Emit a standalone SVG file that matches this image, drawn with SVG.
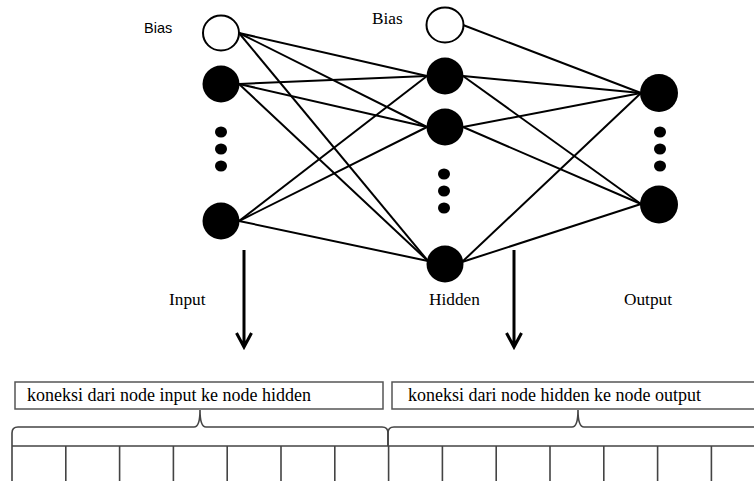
<svg xmlns="http://www.w3.org/2000/svg" width="754" height="481" viewBox="0 0 754 481">
<defs>
<style>
.bias{fill:#fff;stroke:#000;stroke-width:2}
.node{fill:#000}
.dot{fill:#000}
.conn{stroke:#000;stroke-width:2;fill:none}
.arrow{stroke:#000;stroke-width:3;fill:none}
.lbl{font-family:"Liberation Serif","Times New Roman",serif;font-size:17.3px;fill:#000}
.sans{font-family:"Liberation Sans",Arial,sans-serif;font-size:14.5px;fill:#000}
.box{fill:#fff;stroke:#555;stroke-width:1.5}
.btxt{font-family:"Liberation Serif","Times New Roman",serif;font-size:18px;fill:#000}
.grid{stroke:#444;stroke-width:1.6;fill:none}
</style>
</defs>
<rect width="754" height="481" fill="#fff"/>
<g id="connectors">
<line class="conn" x1="239" y1="33" x2="427" y2="76"/>
<line class="conn" x1="239" y1="33" x2="427" y2="127"/>
<line class="conn" x1="239" y1="33" x2="428" y2="261"/>
<line class="conn" x1="239" y1="84" x2="427" y2="76"/>
<line class="conn" x1="239" y1="84" x2="427" y2="127"/>
<line class="conn" x1="239" y1="84" x2="428" y2="261"/>
<line class="conn" x1="239" y1="221" x2="427" y2="76"/>
<line class="conn" x1="239" y1="221" x2="427" y2="127"/>
<line class="conn" x1="239" y1="221" x2="428" y2="261"/>
<line class="conn" x1="463" y1="25" x2="641" y2="93"/>
<line class="conn" x1="463" y1="76" x2="641" y2="93"/>
<line class="conn" x1="463" y1="76" x2="641" y2="204"/>
<line class="conn" x1="463" y1="127" x2="641" y2="93"/>
<line class="conn" x1="463" y1="127" x2="641" y2="204"/>
<line class="conn" x1="462" y1="262" x2="641" y2="93"/>
<line class="conn" x1="462" y1="262" x2="641" y2="204"/>
</g>
<g id="input-bias"><ellipse class="bias" cx="221" cy="33" rx="18" ry="17.5"/></g>
<g id="input-1"><circle class="node" cx="221" cy="84" r="18.5"/></g>
<g id="input-dots"><ellipse class="dot" cx="221" cy="132" rx="6" ry="5.5"/><ellipse class="dot" cx="221" cy="149" rx="6" ry="5.5"/><ellipse class="dot" cx="221" cy="166" rx="6" ry="5.5"/></g>
<g id="input-n"><circle class="node" cx="221" cy="221" r="18.5"/></g>
<g id="hidden-bias"><ellipse class="bias" cx="445" cy="25" rx="18.5" ry="17.5"/></g>
<g id="hidden-1"><circle class="node" cx="445" cy="76" r="18.5"/></g>
<g id="hidden-2"><circle class="node" cx="445" cy="127" r="18.5"/></g>
<g id="hidden-dots"><ellipse class="dot" cx="444" cy="174" rx="6" ry="5.5"/><ellipse class="dot" cx="444" cy="191" rx="6" ry="5.5"/><ellipse class="dot" cx="444" cy="208" rx="6" ry="5.5"/></g>
<g id="hidden-n"><circle class="node" cx="445" cy="264" r="18.5"/></g>
<g id="output-1"><circle class="node" cx="659" cy="93" r="19"/></g>
<g id="output-dots"><ellipse class="dot" cx="660" cy="132" rx="6" ry="5.5"/><ellipse class="dot" cx="660" cy="149" rx="6" ry="5.5"/><ellipse class="dot" cx="660" cy="166" rx="6" ry="5.5"/></g>
<g id="output-n"><circle class="node" cx="659" cy="204.5" r="19"/></g>
<g id="labels">
<text class="sans" x="144" y="33">Bias</text>
<text class="lbl" x="372" y="24">Bias</text>
<text class="lbl" x="169" y="305">Input</text>
<text class="lbl" x="429" y="305">Hidden</text>
<text class="lbl" x="624" y="305">Output</text>
</g>
<g id="arrows">
<path class="arrow" d="M244,250 V347 M236.5,333 L244,347 L251.5,333"/>
<path class="arrow" d="M514,250 V347 M506.5,333 L514,347 L521.5,333"/>
</g>
<g id="box-input-hidden">
<rect class="box" x="15" y="382" width="368" height="27"/>
<text class="btxt" x="27" y="401">koneksi dari node input ke node hidden</text>
</g>
<g id="box-hidden-output">
<rect class="box" x="392" y="382" width="372" height="27"/>
<text class="btxt" x="408" y="401">koneksi dari node hidden ke node output</text>
</g>
<g id="braces">
<path class="grid" d="M12,446 V433 Q12,427 18,427 H194 Q200,427 200,410 Q200,427 206,427 H382 Q388,427 388,433 V446"/>
<path class="grid" d="M388,446 V433 Q388,427 394,427 H572 Q578,427 578,410 Q578,427 584,427 H760"/>
</g>
<g id="grid">
<path class="grid" d="M12,446 H760 M12,446 V481 M65.8,446 V481 M119.6,446 V481 M173.4,446 V481 M227.2,446 V481 M281,446 V481 M334.8,446 V481 M388.6,446 V481 M442.4,446 V481 M496.2,446 V481 M550,446 V481 M603.8,446 V481 M657.6,446 V481 M711.4,446 V481"/>
</g>
</svg>
